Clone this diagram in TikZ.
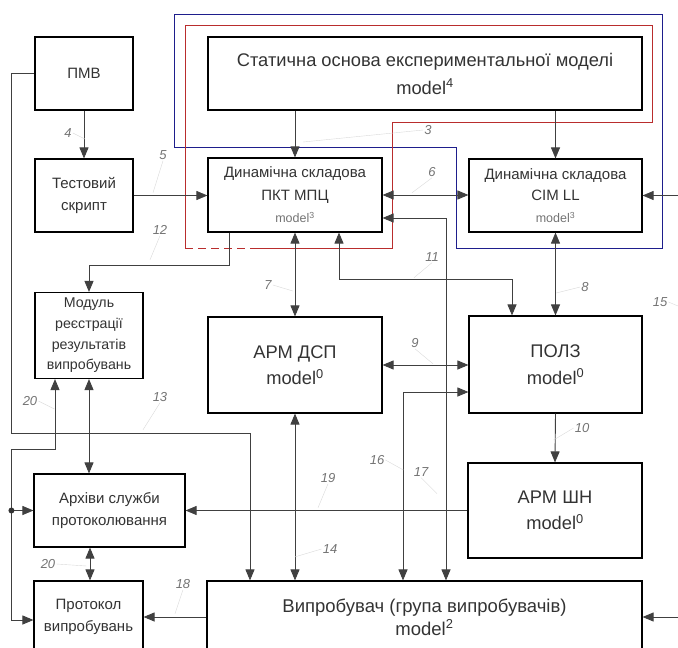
\documentclass[tikz,border=0pt]{standalone}
\usepackage{fontspec}
\setmainfont{Liberation Sans}
\usetikzlibrary{arrows.meta}

\definecolor{navyln}{RGB}{30,30,140}
\definecolor{redln}{RGB}{185,45,45}
\newcommand{\mdl}[1]{{\fontsize{12.5}{14}\selectfont\color{black!55}model\textsuperscript{#1}}}

\begin{document}
\begin{tikzpicture}
  [
    x=1pt, y=-1pt,
    block/.style = {draw, shape=rectangle, line width=1.1pt, align=center, text=black!80, inner sep=2pt, font=\fontsize{15}{21.5}\selectfont},
    bigblock/.style = {block, font=\fontsize{18.3}{26.5}\selectfont},
    wire/.style = {draw=black!75, line width=0.9pt},
    arr/.style = {wire, -{Triangle[length=11pt,width=9pt]}},
    dbl/.style = {wire, {Triangle[length=11pt,width=9pt]}-{Triangle[length=11pt,width=9pt]}},
    num/.style = {text=black!55, inner sep=1pt, font=\fontsize{13}{15}\selectfont\itshape},
    lead/.style = {draw=black!15, line width=0.4pt},
    bluefr/.style = {draw=navyln, line width=0.9pt},
    redfr/.style = {draw=redln, line width=0.9pt},
  ]

  \useasboundingbox (0,0) rectangle (678,648);
  \clip (0,0) rectangle (678,648);

  % frames round the model parts
  \draw[bluefr] (174,14) -- (662,14) -- (662,248) -- (456,248) -- (456,147) -- (174,147) -- cycle;
  \draw[redfr] (250,248) -- (392,248) -- (392,122) -- (652,122) -- (652,25) -- (185,25) -- (185,248);
  \draw[redfr, dash pattern=on 8pt off 5pt] (185,248) -- (250,248);

  % blocks
  \node[block, minimum width=98pt, minimum height=73pt] (pmv) at (84,73.5) {ПМВ};
  \node[block, minimum width=98pt, minimum height=73pt] (test) at (84,195.5) {Тестовий\\скрипт};
  \node[bigblock, minimum width=434pt, minimum height=73pt, font=\fontsize{18.3}{28}\selectfont] (stat) at (425,73.5) {Статична основа експериментальної моделі\\model\textsuperscript{4}};
  \node[block, minimum width=174pt, minimum height=74pt, font=\fontsize{15}{22.5}\selectfont] (pkt) at (295,195) {Динамічна складова\\ПКТ МПЦ\\\mdl{3}};
  \node[block, minimum width=173pt, minimum height=73pt, font=\fontsize{15}{21.5}\selectfont] (cim) at (555.5,195.5) {Динамічна складова\\CIM LL\\\mdl{3}};
  \node[block, minimum width=108pt, minimum height=86pt, font=\fontsize{14.2}{20.7}\selectfont] (reg) at (89,335.5) {Модуль\\реєстрації\\результатів\\випробувань};
  \node[bigblock, minimum width=174pt, minimum height=96pt] (dsp) at (295,365) {АРМ ДСП\\model\textsuperscript{0}};
  \node[bigblock, minimum width=173pt, minimum height=97pt] (polz) at (555.5,364.5) {ПОЛЗ\\model\textsuperscript{0}};
  \node[bigblock, minimum width=174pt, minimum height=95pt] (shn) at (555,510.5) {АРМ ШН\\model\textsuperscript{0}};
  \node[block, minimum width=151pt, minimum height=73pt] (arch) at (109.5,510.5) {Архіви служби\\протоколювання};
  \node[block, minimum width=109pt, minimum height=72pt] (prot) at (88.5,617) {Протокол\\випробувань};
  \node[bigblock, minimum width=435pt, minimum height=72pt, font=\fontsize{18.5}{23}\selectfont] (isp) at (424.5,617) {Випробувач (група випробувачів)\\model\textsuperscript{2}};

  \coordinate (jn) at ([xshift=-22pt]arch.west);
  \coordinate (inC) at ([xshift=36pt]cim.east);
  \coordinate (inI) at ([xshift=36pt]isp.east);

  % connectors
  \draw[arr] (pmv.south) -- (test.north);
  \draw[arr] (pmv.west) -- ++(-23,0) -- ++(0,360) -| ([xshift=-174.5pt]isp.north);
  \draw[arr] (test.east) -- (test.east -| pkt.west);
  \draw[arr] (stat.south -| pkt) -- (pkt.north);
  \draw[arr] (stat.south -| cim) -- (cim.north);
  \draw[dbl] (pkt.east) -- (pkt.east -| cim.west);
  \draw[arr] (inC) -- (cim.east);
  \draw[dbl] ([yshift=-23pt]pkt.east) -| ([xshift=21.5pt]isp.north);
  \draw[dbl] ([xshift=44pt]pkt.south) -- ++(0,47) -| ([xshift=-43.5pt]polz.north);
  \draw[arr] ([xshift=-66pt]pkt.south) -- ++(0,33) -| (reg.north);
  \draw[dbl] (pkt.south) -- (dsp.north);
  \draw[dbl] (cim.south) -- (polz.north);
  \draw[dbl] (dsp.east) -- (dsp.east -| polz.west);
  \draw[dbl] ([yshift=-27.5pt]polz.west) -| ([xshift=-21.5pt]isp.north);
  \draw[arr] (polz.south) -- (shn.north);
  \draw[arr] (shn.west) -- (shn.west -| arch.east);
  \draw[dbl] (dsp.south) -- (dsp.south |- isp.north);
  \draw[dbl] (reg.south) -- (reg.south |- arch.north);
  \draw[arr] (jn) -- (arch.west);
  \draw[arr] (jn) |- ([yshift=-3pt]prot.west);
  \draw[arr] (jn) -- ++(0,-61) -| ([xshift=-34pt]reg.south);
  \fill[black!80] (jn) circle (3pt);
  \draw[dbl] ([xshift=-19.5pt]arch.south) -- ([xshift=-19.5pt]arch.south |- prot.north);
  \draw[arr] (isp.west) -- (isp.west -| prot.east);
  \draw[arr] (inI) -- (isp.east);

  % numbers of the links
  \node[num] (n3) at (428,130) {3};
  \node[num] (n4) at (68,133) {4};
  \node[num] (n5) at (163,155) {5};
  \node[num] (n6) at (432,172) {6};
  \node[num] (n7) at (268,285) {7};
  \node[num] (n8) at (585,287) {8};
  \node[num] (n9) at (415,343) {9};
  \node[num] (n10) at (582,428) {10};
  \node[num] (n11) at (432,257) {11};
  \node[num] (n12) at (160,230) {12};
  \node[num] (n13) at (160,397) {13};
  \node[num] (n14) at (330,549) {14};
  \node[num] (n15) at (660,302) {15};
  \node[num] (n16) at (377,460) {16};
  \node[num] (n17) at (421,472) {17};
  \node[num] (n18) at (183,584) {18};
  \node[num] (n19) at (328,478) {19};
  \node[num] (n20) at (30,401) {20};
  \node[num] (n20b) at (48,564) {20};

  \draw[lead] (n3.west) -- ++(-120,12);
  \draw[lead] (n4.east) -- ++(12,6);
  \draw[lead] (n5.south) -- ++(-10,32);
  \draw[lead] (n6.south) -- ++(-20,15);
  \draw[lead] (n7.east) -- ++(20,6);
  \draw[lead] (n8.west) -- ++(-24,6);
  \draw[lead] (n9.south) -- ++(18,15);
  \draw[lead] (n10.west) -- ++(-20,12);
  \draw[lead] (n11.south) -- ++(-18,15);
  \draw[lead] (n12.south) -- ++(-10,24);
  \draw[lead] (n13.south) -- ++(-17,27);
  \draw[lead] (n14.west) -- ++(-27,8);
  \draw[lead] (n15.east) -- ++(12,5);
  \draw[lead] (n16.east) -- ++(18,10);
  \draw[lead] (n17.south) -- ++(16,16);
  \draw[lead] (n18.south) -- ++(-8,24);
  \draw[lead] (n19.south) -- ++(-10,24);
  \draw[lead] (n20.east) -- ++(16,8);
  \draw[lead] (n20b.east) -- ++(30,2);
\end{tikzpicture}
\end{document}
